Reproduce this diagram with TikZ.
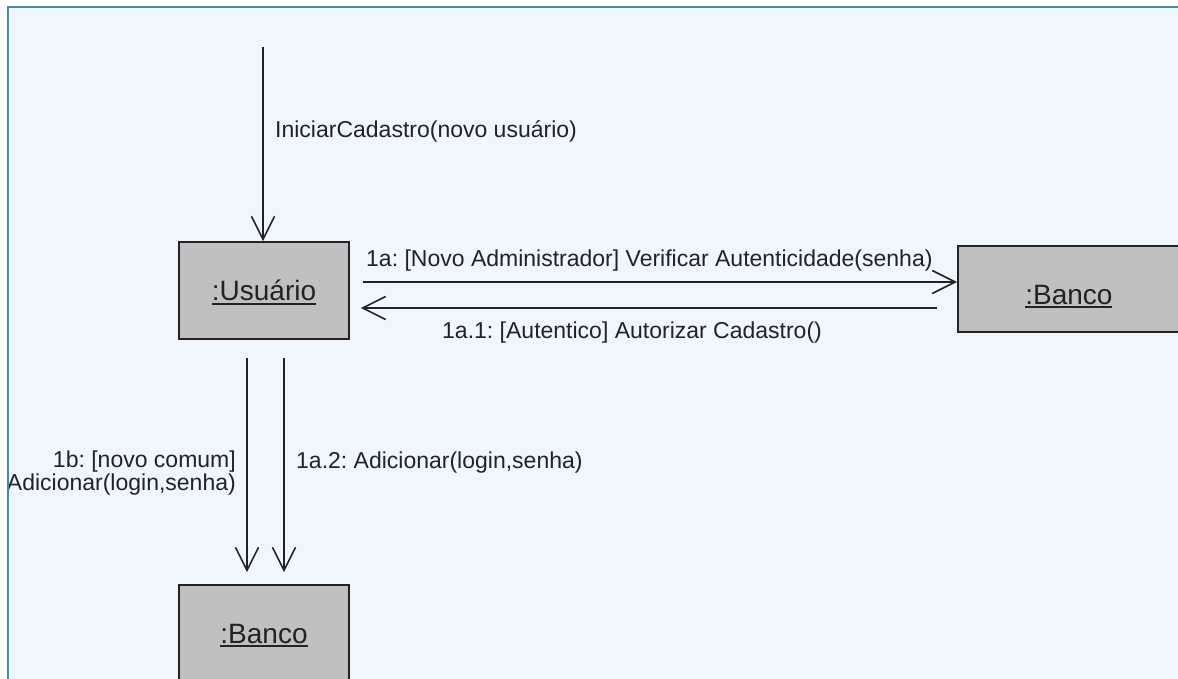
\documentclass[tikz,border=0pt]{standalone}
\usepackage{fontspec}
\setmainfont{Liberation Sans}
\usetikzlibrary{arrows.meta,calc}
\definecolor{bgblue}{RGB}{239,246,253}
\definecolor{frameteal}{RGB}{72,140,160}
\definecolor{boxgray}{RGB}{192,192,192}
\definecolor{inkdark}{RGB}{35,35,35}
% underlined object name
\newcommand\objname[1]{\setbox0\hbox{#1}\rlap{\rule[-4pt]{\wd0}{1.8pt}}\box0}

\begin{document}
\frenchspacing
\begin{tikzpicture}[x=1pt,y=-1pt,
  objbox/.style={draw=inkdark, line width=1.8pt, fill=boxgray, inner sep=0pt,
    font=\fontsize{28}{30}\selectfont, text=inkdark, text depth=0pt},
  msg/.style={draw=inkdark, line width=1.6pt,
    -{Straight Barb[length=23pt,width=23pt,line width=1.6pt]}},
  msglabel/.style={font=\fontsize{23}{23}\selectfont, text=inkdark, inner sep=0pt},
]
\useasboundingbox (0,0) rectangle (1178,679);
\clip (0,0) rectangle (1178,679);
\fill[white] (0,0) rectangle (1178,679);
\fill[bgblue] (8,7) rectangle (1178,679);
\draw[frameteal, line width=2.2pt] (8,679) -- (8,7) -- (1178,7);

% objects
\node[objbox, minimum width=170pt, minimum height=97pt, text height=20pt] (usr) at (264,290.5) {\objname{:Usuário}};
\node[objbox, minimum width=222pt, minimum height=86pt, text height=30pt, anchor=west] (bancoR) at (957,289) {\objname{:Banco}};
\node[objbox, minimum width=170pt, minimum height=96pt, text height=20pt] (bancoB) at (264,633) {\objname{:Banco}};

% incoming message
\coordinate (start) at (263,47);
\draw[msg] (start) -- (start |- usr.north);
\node[msglabel, anchor=base west] (lblInit) at (275,138) {IniciarCadastro(novo usuário)};

% messages to and from the right bank
\draw[msg] ($(usr.east)+(13,-8.5)$) -- ($(bancoR.west)+(0,-7)$);
\draw[msg] ($(bancoR.west)+(-20,19)$) -- ($(usr.east)+(11,17.5)$);
\node[msglabel, anchor=base west] (lbl1a) at (366,266) {1a: [Novo Administrador] Verificar Autenticidade(senha)};
\node[msglabel, anchor=base west] (lbl1a1) at (442,338) {1a.1: [Autentico] Autorizar Cadastro()};

% messages to the lower bank
\draw[msg] ($(usr.south)+(-17,18)$) -- ($(bancoB.north)+(-17,-12)$);
\draw[msg] ($(usr.south)+(20,18)$) -- ($(bancoB.north)+(20,-12)$);
\node[msglabel, anchor=base west] (lbl1a2) at (296,468) {1a.2: Adicionar(login,senha)};
\begin{scope}
  \clip (9,0) rectangle (1178,679);
  \node[msglabel, anchor=base east, align=right] (lbl1b) at (236,490) {1b: [novo comum]\\Adicionar(login,senha)};
\end{scope}
\end{tikzpicture}
\end{document}
